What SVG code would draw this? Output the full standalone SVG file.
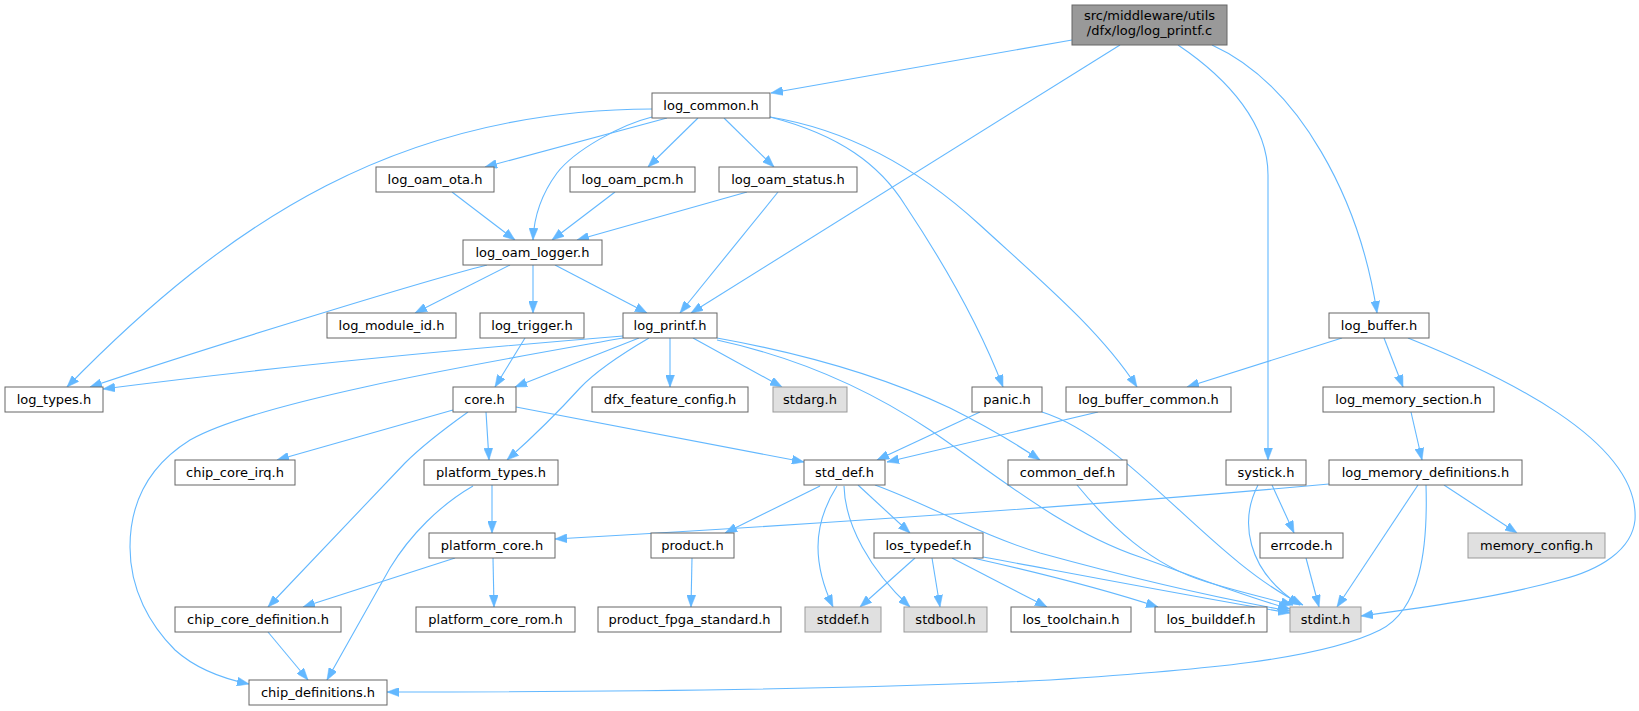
<svg xmlns="http://www.w3.org/2000/svg" width="1639" height="711" viewBox="0 0 1639 711">
<style>
.n rect{fill:#ffffff;stroke:#666666;stroke-width:1}
.g rect{fill:#e0e0e0;stroke:#999999;stroke-width:1}
.m rect{fill:#999999;stroke:#666666;stroke-width:1}
text{font-family:"DejaVu Sans","Liberation Sans",sans-serif;font-size:13px;fill:#000000;text-anchor:middle}
#edges path{fill:none;stroke:#63b8ff;stroke-width:1.1;marker-end:url(#arr)}
</style>
<defs>
<marker id="arr" markerUnits="userSpaceOnUse" markerWidth="12" markerHeight="9" refX="12" refY="4.5" orient="auto">
<path d="M0,0 L12,4.5 L0,9 z" fill="#63b8ff" stroke="#63b8ff" stroke-width="0.5"/>
</marker>
</defs>
<rect x="0" y="0" width="1639" height="711" fill="#ffffff"/>
<g id="edges">
<path d="M1072,40 L771,93"/>
<path d="M1120,45 L691,313"/>
<path d="M1178,45 C1230,80 1268,125 1268,175 L1268,460"/>
<path d="M1212,45 C1300,85 1360,200 1377,313"/>
<path d="M652,109 C400,110 230,220 67,387"/>
<path d="M667,118 L485,167"/>
<path d="M652,117 C620,125 575,150 557,173 C543,192 534,215 533,240"/>
<path d="M698,118 L648,167"/>
<path d="M724,118 L774,167"/>
<path d="M770,117 C840,135 880,165 905,205 C955,280 985,340 1003,387"/>
<path d="M770,117 C850,130 920,170 980,225 C1040,280 1100,330 1137,387"/>
<path d="M452,192 L515,240"/>
<path d="M615,192 L552,240"/>
<path d="M747,192 L577,240"/>
<path d="M778,192 L680,313"/>
<path d="M487,265 C420,282 200,350 90,387"/>
<path d="M510,265 L415,313"/>
<path d="M533,265 L533,313"/>
<path d="M555,265 L647,313"/>
<path d="M525,338 L495,387"/>
<path d="M623,336 C450,350 250,370 103,389"/>
<path d="M623,338 C500,360 260,400 190,440 C150,465 130,500 130,547 C130,590 150,625 175,650 C195,668 220,678 249,684"/>
<path d="M639,338 L515,387"/>
<path d="M649,338 C620,355 595,372 580,388 C560,410 535,435 507,460"/>
<path d="M670,338 L670,387"/>
<path d="M693,338 L782,387"/>
<path d="M717,338 C800,353 880,375 950,408 C990,428 1015,443 1040,460"/>
<path d="M717,340 C800,358 870,390 930,430 C990,470 1060,530 1140,557 C1190,575 1240,595 1290,609"/>
<path d="M453,410 L277,460"/>
<path d="M468,412 C440,432 420,448 405,463 L268,607"/>
<path d="M486,412 L489,460"/>
<path d="M516,407 L804,462"/>
<path d="M492,485 L492,533"/>
<path d="M473,486 C440,505 410,535 390,568 L327,680"/>
<path d="M493,558 L494,607"/>
<path d="M455,558 L303,607"/>
<path d="M268,632 L308,680"/>
<path d="M820,486 L725,533"/>
<path d="M692,558 L691,607"/>
<path d="M837,486 C825,505 818,525 818,547 C818,570 825,590 833,607"/>
<path d="M844,486 C845,525 870,570 910,607"/>
<path d="M858,485 L910,533"/>
<path d="M875,485 C930,505 980,535 1040,553 C1120,575 1200,595 1290,611"/>
<path d="M980,412 L877,460"/>
<path d="M1042,412 C1130,440 1210,560 1303,605"/>
<path d="M1098,412 L887,462"/>
<path d="M1077,485 C1110,525 1150,565 1207,582 C1240,592 1265,598 1293,605"/>
<path d="M915,558 L860,607"/>
<path d="M932,558 L940,607"/>
<path d="M952,558 L1047,607"/>
<path d="M973,558 C1040,573 1100,588 1158,607"/>
<path d="M983,557 C1080,575 1200,598 1290,613"/>
<path d="M1272,485 L1294,533"/>
<path d="M1258,485 C1240,520 1245,570 1300,605"/>
<path d="M1306,558 L1319,607"/>
<path d="M1329,484 C1100,505 800,525 555,539"/>
<path d="M1418,485 L1337,607"/>
<path d="M1426,485 C1428,550 1420,610 1380,630 C1320,660 1200,670 1050,680 C850,690 600,692 387,692"/>
<path d="M1444,485 L1517,533"/>
<path d="M1411,412 L1422,460"/>
<path d="M1342,338 L1187,387"/>
<path d="M1384,338 L1403,387"/>
<path d="M1408,338 C1500,375 1640,440 1635,520 C1632,550 1600,570 1560,580 C1500,597 1420,608 1361,616"/>
</g>
<g id="node-main" class="m"><rect x="1072" y="5" width="155" height="40"/><text x="1149.5" y="20">src/middleware/utils</text><text x="1149.5" y="35">/dfx/log/log_printf.c</text></g>
<g id="node-log_common" class="n"><rect x="652" y="93" width="118" height="25"/><text x="711" y="110">log_common.h</text></g>
<g id="node-log_oam_ota" class="n"><rect x="376" y="167" width="118" height="25"/><text x="435" y="184">log_oam_ota.h</text></g>
<g id="node-log_oam_pcm" class="n"><rect x="570" y="167" width="125" height="25"/><text x="632.5" y="184">log_oam_pcm.h</text></g>
<g id="node-log_oam_status" class="n"><rect x="719" y="167" width="138" height="25"/><text x="788" y="184">log_oam_status.h</text></g>
<g id="node-log_oam_logger" class="n"><rect x="463" y="240" width="139" height="25"/><text x="532.5" y="257">log_oam_logger.h</text></g>
<g id="node-log_module_id" class="n"><rect x="327" y="313" width="129" height="25"/><text x="391.5" y="330">log_module_id.h</text></g>
<g id="node-log_trigger" class="n"><rect x="480" y="313" width="104" height="25"/><text x="532" y="330">log_trigger.h</text></g>
<g id="node-log_printf" class="n"><rect x="623" y="313" width="94" height="25"/><text x="670" y="330">log_printf.h</text></g>
<g id="node-log_buffer" class="n"><rect x="1329" y="313" width="100" height="25"/><text x="1379" y="330">log_buffer.h</text></g>
<g id="node-log_types" class="n"><rect x="5" y="387" width="98" height="25"/><text x="54" y="404">log_types.h</text></g>
<g id="node-core" class="n"><rect x="453" y="387" width="63" height="25"/><text x="484.5" y="404">core.h</text></g>
<g id="node-dfx_feature_config" class="n"><rect x="592" y="387" width="156" height="25"/><text x="670" y="404">dfx_feature_config.h</text></g>
<g id="node-stdarg" class="g"><rect x="773" y="387" width="74" height="25"/><text x="810" y="404">stdarg.h</text></g>
<g id="node-panic" class="n"><rect x="972" y="387" width="70" height="25"/><text x="1007" y="404">panic.h</text></g>
<g id="node-log_buffer_common" class="n"><rect x="1066" y="387" width="165" height="25"/><text x="1148.5" y="404">log_buffer_common.h</text></g>
<g id="node-log_memory_section" class="n"><rect x="1323" y="387" width="171" height="25"/><text x="1408.5" y="404">log_memory_section.h</text></g>
<g id="node-chip_core_irq" class="n"><rect x="175" y="460" width="120" height="25"/><text x="235" y="477">chip_core_irq.h</text></g>
<g id="node-platform_types" class="n"><rect x="424" y="460" width="134" height="25"/><text x="491" y="477">platform_types.h</text></g>
<g id="node-std_def" class="n"><rect x="804" y="460" width="81" height="25"/><text x="844.5" y="477">std_def.h</text></g>
<g id="node-common_def" class="n"><rect x="1008" y="460" width="119" height="25"/><text x="1067.5" y="477">common_def.h</text></g>
<g id="node-systick" class="n"><rect x="1226" y="460" width="80" height="25"/><text x="1266" y="477">systick.h</text></g>
<g id="node-log_memory_definitions" class="n"><rect x="1329" y="460" width="193" height="25"/><text x="1425.5" y="477">log_memory_definitions.h</text></g>
<g id="node-platform_core" class="n"><rect x="429" y="533" width="126" height="25"/><text x="492" y="550">platform_core.h</text></g>
<g id="node-product" class="n"><rect x="651" y="533" width="83" height="25"/><text x="692.5" y="550">product.h</text></g>
<g id="node-los_typedef" class="n"><rect x="874" y="533" width="109" height="25"/><text x="928.5" y="550">los_typedef.h</text></g>
<g id="node-errcode" class="n"><rect x="1260" y="533" width="83" height="25"/><text x="1301.5" y="550">errcode.h</text></g>
<g id="node-memory_config" class="g"><rect x="1468" y="533" width="137" height="25"/><text x="1536.5" y="550">memory_config.h</text></g>
<g id="node-chip_core_definition" class="n"><rect x="175" y="607" width="166" height="25"/><text x="258" y="624">chip_core_definition.h</text></g>
<g id="node-platform_core_rom" class="n"><rect x="416" y="607" width="159" height="25"/><text x="495.5" y="624">platform_core_rom.h</text></g>
<g id="node-product_fpga_standard" class="n"><rect x="598" y="607" width="183" height="25"/><text x="689.5" y="624">product_fpga_standard.h</text></g>
<g id="node-stddef" class="g"><rect x="805" y="607" width="76" height="25"/><text x="843" y="624">stddef.h</text></g>
<g id="node-stdbool" class="g"><rect x="904" y="607" width="83" height="25"/><text x="945.5" y="624">stdbool.h</text></g>
<g id="node-los_toolchain" class="n"><rect x="1011" y="607" width="120" height="25"/><text x="1071" y="624">los_toolchain.h</text></g>
<g id="node-los_builddef" class="n"><rect x="1155" y="607" width="112" height="25"/><text x="1211" y="624">los_builddef.h</text></g>
<g id="node-stdint" class="g"><rect x="1290" y="607" width="71" height="25"/><text x="1325.5" y="624">stdint.h</text></g>
<g id="node-chip_definitions" class="n"><rect x="249" y="680" width="138" height="25"/><text x="318" y="697">chip_definitions.h</text></g>
</svg>
